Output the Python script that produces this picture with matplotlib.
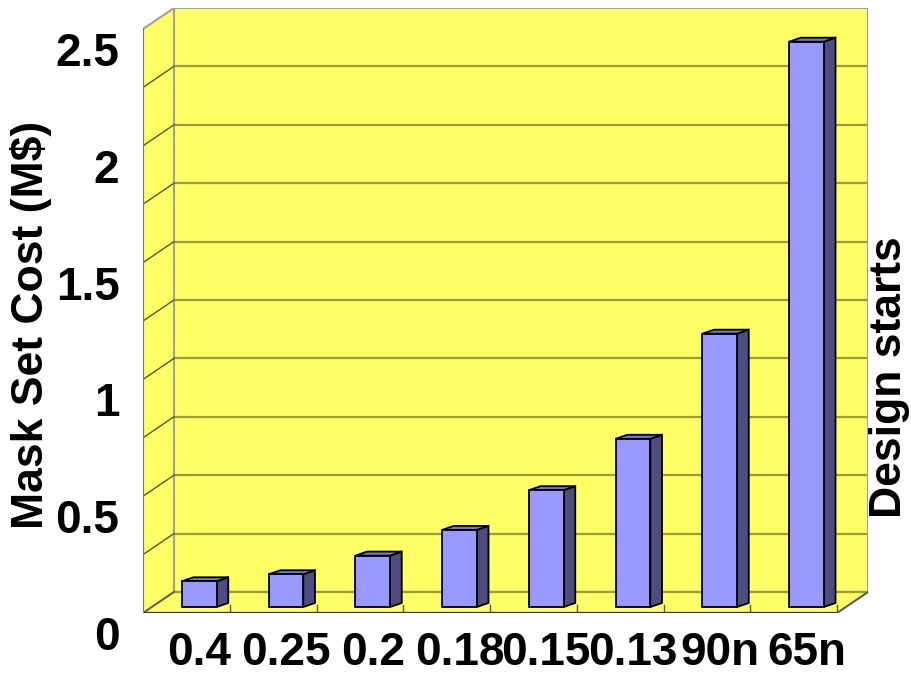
import matplotlib.pyplot as plt
import numpy as np
from matplotlib.patches import Polygon, Rectangle
from matplotlib.transforms import ScaledTranslation
from matplotlib import font_manager

nodes = ['0.4', '0.25', '0.2', '0.18', '0.15', '0.13', '90n', '65n']
mask_cost = [0.11, 0.14, 0.22, 0.33, 0.50, 0.72, 1.17, 2.42]
ytick_vals = [0, 0.5, 1, 1.5, 2, 2.5]
ytick_labels = ['0', '0.5', '1', '1.5', '2', '2.5']
grid_levels = np.arange(0, 2.51, 0.25)

names = {f.name for f in font_manager.fontManager.ttflist}
narrow = 'Liberation Sans Narrow' if 'Liberation Sans Narrow' in names else 'Liberation Sans'
tick_size = 35 if narrow == 'Liberation Sans Narrow' else 33

yellow = '#FFFF66'
grid_c = '#9C9C3A'
wall_edge = '#A0A0A0'
face_c = '#9999FF'
side_c = '#4D4D80'
top_c = '#7777CC'

# oblique depth of the box and of the bars, in data units
wall_dx, wall_dy = 0.357, 0.09
bar_dx0, bar_dy0 = 0.1475, 0.0257
bar_ddx, bar_ddy = 0.135, 0.0172
bar_w = 0.40

n = len(nodes)
ymax = 2.5

fig = plt.figure(figsize=(9.11, 6.76), dpi=100)
ax = fig.add_axes([143 / 911, 63 / 676, 725 / 911, 605 / 676])
ax.set_xlim(0, n + wall_dx)
ax.set_ylim(0, ymax + wall_dy)
for s in ax.spines.values():
    s.set_visible(False)
ax.patch.set_visible(False)

# walls and floor
ax.add_patch(Rectangle((wall_dx, wall_dy), n, ymax, fc=yellow, ec=wall_edge, lw=1.5, zorder=1))
ax.add_patch(Polygon([(0, 0), (wall_dx, wall_dy), (wall_dx, ymax + wall_dy), (0, ymax)],
                     closed=True, fc=yellow, ec=wall_edge, lw=1.5, zorder=1))
ax.add_patch(Polygon([(0, 0), (n, 0), (n + wall_dx, wall_dy), (wall_dx, wall_dy)],
                     closed=True, fc=yellow, ec=wall_edge, lw=1.5, zorder=1))

for g in grid_levels[1:-1]:
    ax.plot([wall_dx, n + wall_dx], [g + wall_dy, g + wall_dy], color=grid_c, lw=1.6, zorder=2)
    ax.plot([0, wall_dx], [g, g + wall_dy], color='#555533', lw=1.0, zorder=2)
ax.plot([wall_dx, n + wall_dx], [wall_dy, wall_dy], color=grid_c, lw=1.6, zorder=2)
ax.plot([0, wall_dx], [0, wall_dy], color='#555533', lw=1.0, zorder=2)

# floor front edge and category ticks
ax.plot([0, n], [0, 0], color='#333333', lw=1.6, zorder=3)
ax.plot([n, n + wall_dx], [0, wall_dy], color='#555555', lw=1.2, zorder=3)
ax.plot([0, 0], [0, ymax], color='#777777', lw=1.5, zorder=3)
for i in range(1, n + 1):
    ax.plot([i, i], [0, 0.035], color='#555555', lw=1.0, zorder=3)

# 3-D columns
for i, v in enumerate(mask_cost):
    x0 = i + 0.5 - bar_w / 2 + bar_dx0
    y0 = bar_dy0
    x1 = x0 + bar_w
    ax.add_patch(Polygon([(x1, y0), (x1 + bar_ddx, y0 + bar_ddy),
                          (x1 + bar_ddx, y0 + v + bar_ddy), (x1, y0 + v)],
                         closed=True, fc=side_c, ec='black', lw=1.3, zorder=4))
    ax.add_patch(Polygon([(x0, y0 + v), (x0 + bar_ddx, y0 + v + bar_ddy),
                          (x1 + bar_ddx, y0 + v + bar_ddy), (x1, y0 + v)],
                         closed=True, fc=top_c, ec='black', lw=1.3, zorder=4))
    ax.add_patch(Rectangle((x0, y0), bar_w, v, fc=face_c, ec='black', lw=1.3, zorder=5))

# axis labels
ax.set_xticks([i + 0.5 + bar_dx0 for i in range(n)])
ax.set_xticklabels(nodes)
ax.set_yticks(ytick_vals)
ax.set_yticklabels(ytick_labels)
ax.tick_params(axis='x', length=0, pad=13)
ax.tick_params(axis='y', length=0, pad=17)
for lab in ax.get_xticklabels() + ax.get_yticklabels():
    lab.set_fontfamily(narrow)
    lab.set_fontweight('bold')
    lab.set_fontsize(tick_size)
shift = ScaledTranslation(0, -0.2, fig.dpi_scale_trans)
for lab in ax.get_yticklabels():
    lab.set_transform(lab.get_transform() + shift)

fig.text(31 / 911, 1 - 325 / 676, 'Mask Set Cost (M$)', rotation=90, ha='center', va='center',
         fontsize=32, fontweight='bold', family='Liberation Sans')
fig.text(889 / 911, 1 - 377 / 676, 'Design starts', rotation=90, ha='center', va='center',
         fontsize=32, fontweight='bold', family='Liberation Sans')

fig.savefig('out.png', dpi=100)
